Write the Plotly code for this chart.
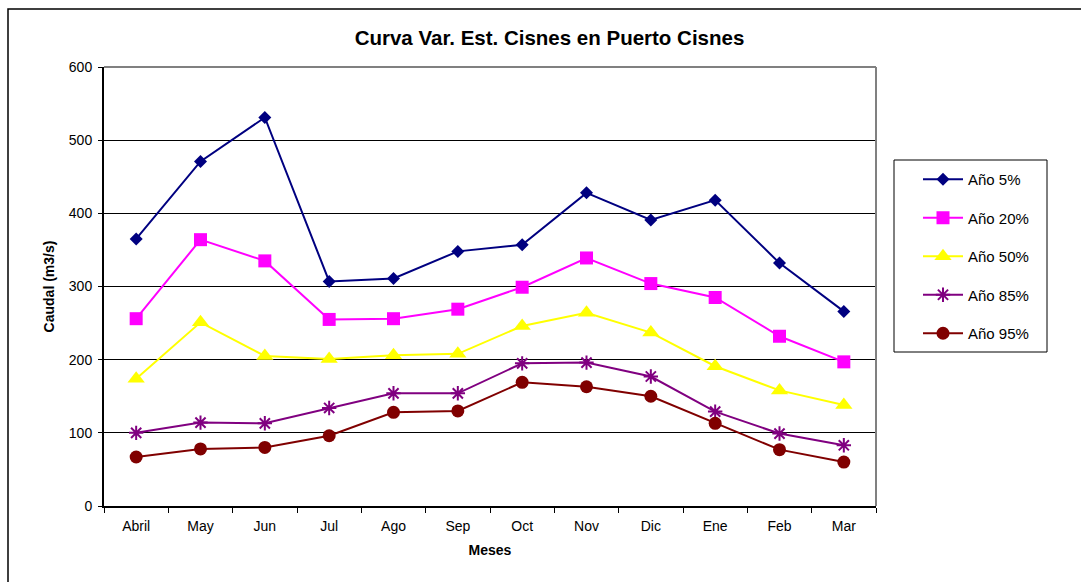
import plotly.graph_objects as go

meses = ["Abril", "May", "Jun", "Jul", "Ago", "Sep", "Oct", "Nov", "Dic", "Ene", "Feb", "Mar"]
ano_5 = [365, 471, 531, 307, 311, 348, 357, 428, 391, 418, 332, 266]
ano_20 = [256, 364, 335, 255, 256, 269, 299, 339, 304, 285, 232, 197]
ano_50 = [174, 251, 205, 201, 206, 208, 246, 264, 237, 191, 158, 138]
ano_85 = [100, 114, 113, 134, 154, 154, 195, 196, 177, 129, 99, 83]
ano_95 = [67, 78, 80, 96, 128, 130, 169, 163, 150, 113, 77, 60]
y_ticks = [0, 100, 200, 300, 400, 500, 600]

FONT = "Liberation Sans, Arial, sans-serif"
W, H = 1081, 582
L, R, T, B = 104, 876, 67, 506
pw, ph = R - L, B - T


def px_x(x):
    return (x - L) / pw


def px_y(y):
    return (B - y) / ph


series = [
    ("Año 5%", ano_5, "#000080", "diamond", 10, 0),
    ("Año 20%", ano_20, "#FF00FF", "square", 13, 0),
    ("Año 50%", ano_50, "#FFFF00", "triangle-up", 15, 0),
    ("Año 85%", ano_85, "#800080", "asterisk-open", 12, 2),
    ("Año 95%", ano_95, "#800000", "circle", 13, 0),
]

fig = go.Figure()
for i, (name, vals, col, sym, sz, lw) in enumerate(series):
    fig.add_trace(go.Scatter(
        x=meses, y=vals, name=name, mode="lines+markers",
        legendgroup=f"g{i}",
        line=dict(color=col, width=2),
        marker=dict(symbol=sym, size=sz, color=col,
                    line=dict(color=col, width=lw)),
    ))

shapes = [
    # outer chart frame
    dict(type="rect", xref="paper", yref="paper",
         x0=px_x(8), x1=px_x(1095), y0=px_y(600), y1=px_y(9),
         line=dict(color="#000000", width=1.5), layer="below"),
    # plot area top/right border (gray)
    dict(type="line", xref="paper", yref="paper", x0=0, x1=1, y0=1, y1=1,
         line=dict(color="#808080", width=2)),
    dict(type="line", xref="paper", yref="paper", x0=1, x1=1, y0=0, y1=1,
         line=dict(color="#808080", width=2)),
    # legend box
    dict(type="rect", xref="paper", yref="paper",
         x0=px_x(894), x1=px_x(1047), y0=px_y(352), y1=px_y(160),
         line=dict(color="#000000", width=1)),
]

fig.update_layout(
    width=W, height=H,
    margin=dict(l=L, r=W - R, t=T, b=H - B, pad=0),
    paper_bgcolor="white", plot_bgcolor="white",
    font=dict(family=FONT, size=14, color="#000000"),
    title=dict(text="Curva Var. Est. Cisnes en Puerto Cisnes",
               font=dict(family=FONT, size=20.5, weight="bold", color="#000000"),
               xref="container", yref="container",
               x=549.5 / W, xanchor="center",
               y=1 - 38 / H, yanchor="middle"),
    showlegend=True,
    legend=dict(x=px_x(918), xanchor="left", y=px_y(163), yanchor="top",
                bgcolor="rgba(0,0,0,0)", borderwidth=0,
                font=dict(family=FONT, size=15, color="#000000"),
                itemwidth=40, tracegroupgap=16, traceorder="grouped"),
    shapes=shapes,
)

fig.update_xaxes(
    type="category", range=[-0.5, 11.5],
    showgrid=False, zeroline=False,
    showline=True, linecolor="#000000", linewidth=2,
    ticks="outside", ticklen=5, tickcolor="#000000", tickwidth=1,
    tickson="boundaries", ticklabelstandoff=6,
    tickfont=dict(family=FONT, size=14, color="#000000"),
    title=dict(text="Meses", font=dict(family=FONT, size=14, weight="bold"), standoff=12),
)
fig.update_yaxes(
    range=[0, 600], tickvals=y_ticks,
    showgrid=True, gridcolor="#000000", gridwidth=1,
    zeroline=False,
    showline=True, linecolor="#000000", linewidth=2,
    ticks="outside", ticklen=4, tickcolor="#000000", tickwidth=1,
    ticklabelstandoff=3,
    tickfont=dict(family=FONT, size=14, color="#000000"),
    title=dict(text="Caudal (m3/s)", font=dict(family=FONT, size=14, weight="bold"), standoff=11),
)

fig.write_html("out.html")
